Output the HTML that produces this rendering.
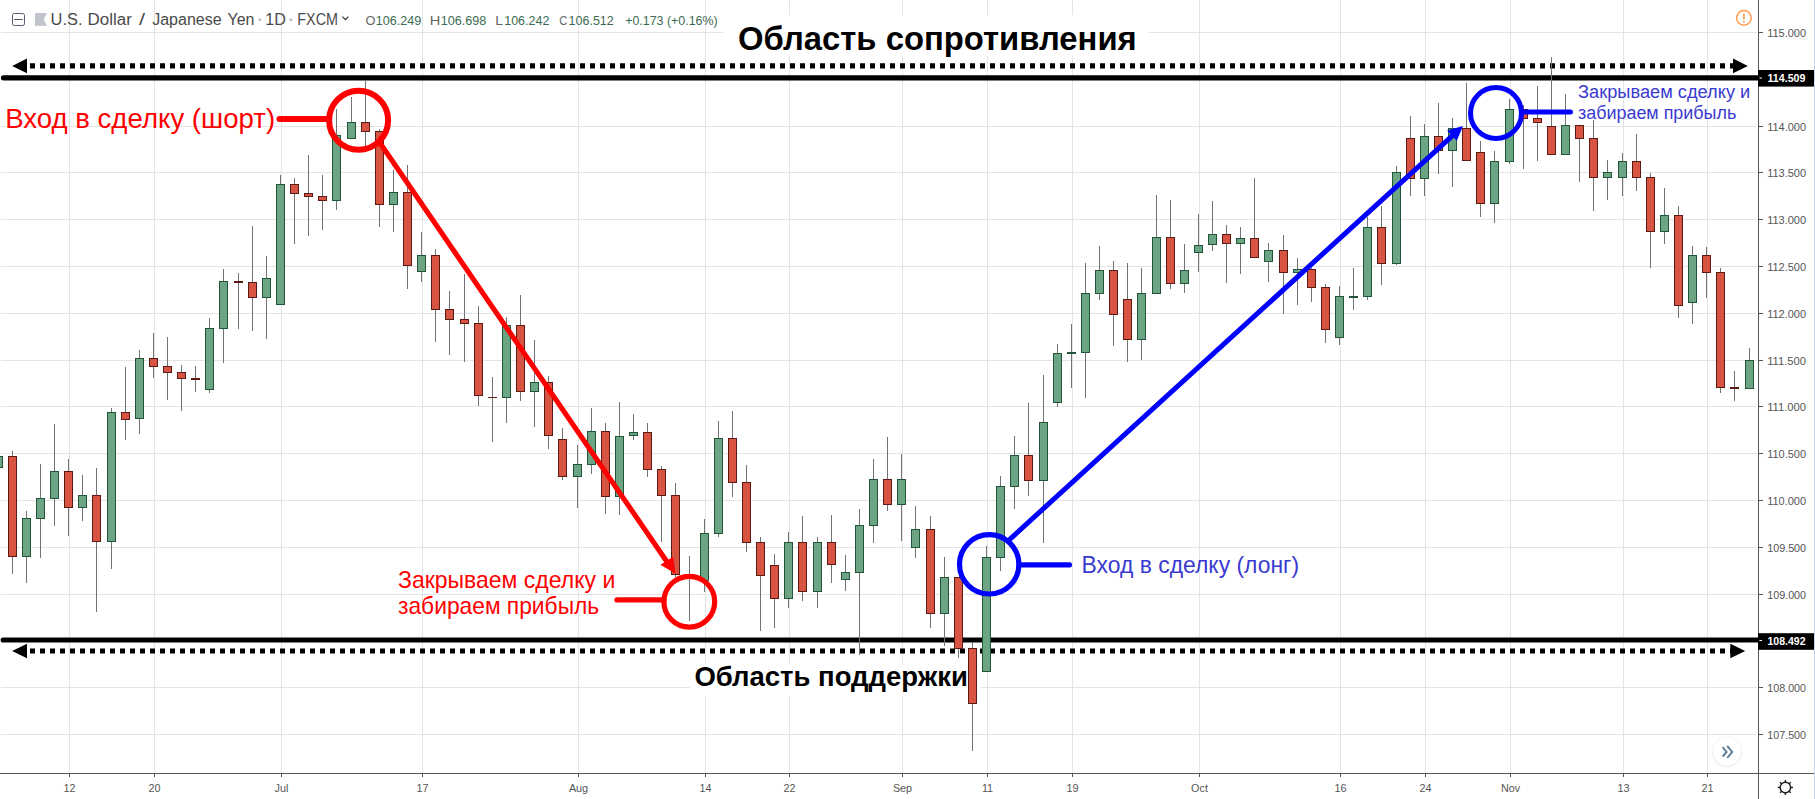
<!DOCTYPE html>
<html lang="ru"><head><meta charset="utf-8"><title>USDJPY 1D</title>
<style>html,body{margin:0;padding:0;background:#fff;}body{width:1815px;height:799px;overflow:hidden;position:relative;}</style>
</head><body>
<svg width="1815" height="799" viewBox="0 0 1815 799" style="position:absolute;left:0;top:0;display:block" font-family="'Liberation Sans', sans-serif">
<rect x="0" y="0" width="1815" height="799" fill="#ffffff"/>
<g fill="#e4e4e4" shape-rendering="crispEdges">
<rect x="1" y="32" width="1756" height="1"/>
<rect x="1" y="79" width="1756" height="1"/>
<rect x="1" y="126" width="1756" height="1"/>
<rect x="1" y="172" width="1756" height="1"/>
<rect x="1" y="219" width="1756" height="1"/>
<rect x="1" y="266" width="1756" height="1"/>
<rect x="1" y="313" width="1756" height="1"/>
<rect x="1" y="360" width="1756" height="1"/>
<rect x="1" y="406" width="1756" height="1"/>
<rect x="1" y="453" width="1756" height="1"/>
<rect x="1" y="500" width="1756" height="1"/>
<rect x="1" y="547" width="1756" height="1"/>
<rect x="1" y="594" width="1756" height="1"/>
<rect x="1" y="640" width="1756" height="1"/>
<rect x="1" y="687" width="1756" height="1"/>
<rect x="1" y="734" width="1756" height="1"/>
<rect x="69" y="0" width="1" height="773"/>
<rect x="154" y="0" width="1" height="773"/>
<rect x="281" y="0" width="1" height="773"/>
<rect x="422" y="0" width="1" height="773"/>
<rect x="578" y="0" width="1" height="773"/>
<rect x="705" y="0" width="1" height="773"/>
<rect x="789" y="0" width="1" height="773"/>
<rect x="902" y="0" width="1" height="773"/>
<rect x="987" y="0" width="1" height="773"/>
<rect x="1072" y="0" width="1" height="773"/>
<rect x="1199" y="0" width="1" height="773"/>
<rect x="1340" y="0" width="1" height="773"/>
<rect x="1425" y="0" width="1" height="773"/>
<rect x="1510" y="0" width="1" height="773"/>
<rect x="1623" y="0" width="1" height="773"/>
<rect x="1707" y="0" width="1" height="773"/>
</g>
<rect x="723" y="15" width="426" height="41" fill="#ffffff"/>
<rect x="690" y="665" width="291" height="31" fill="#ffffff"/>
<g stroke="#000" fill="#000">
<line x1="3.5" y1="77.8" x2="1758" y2="77.8" stroke-width="5.2" stroke-linecap="round"/>
<line x1="3.2" y1="640" x2="1758" y2="640" stroke-width="5.2" stroke-linecap="round"/>
<line x1="30" y1="65.8" x2="1736" y2="65.8" stroke-width="5.2" stroke-dasharray="5 5"/>
<line x1="30" y1="651" x2="1733" y2="651" stroke-width="5" stroke-dasharray="5 5"/>
<polygon stroke="none" points="12.2,65.9 27,58.5 27,73.3"/>
<polygon stroke="none" points="1747.8,65.9 1733,58.5 1733,73.3"/>
<polygon stroke="none" points="12.2,651 27,643.7 27,658.3"/>
<polygon stroke="none" points="1745.2,651 1730.3,643.7 1730.3,658.3"/>
</g>
<text x="738.02" y="49.6" font-size="33.6" font-weight="bold" fill="#000" textLength="398.73" lengthAdjust="spacingAndGlyphs">Область сопротивления</text>
<text x="694.42" y="685.8" font-size="28" font-weight="bold" fill="#000" textLength="273.37" lengthAdjust="spacingAndGlyphs">Область поддержки</text>
<g shape-rendering="crispEdges">
<rect x="-2" y="456" width="1" height="12" fill="#737375"/>
<rect x="-6" y="456" width="9" height="12" fill="#225437"/>
<rect x="-5" y="457" width="7" height="10" fill="#6ba583"/>
<rect x="12" y="451" width="1" height="123" fill="#737375"/>
<rect x="8" y="456" width="9" height="101" fill="#5b1a13"/>
<rect x="9" y="457" width="7" height="99" fill="#d75442"/>
<rect x="26" y="511" width="1" height="72" fill="#737375"/>
<rect x="22" y="518" width="9" height="39" fill="#225437"/>
<rect x="23" y="519" width="7" height="37" fill="#6ba583"/>
<rect x="40" y="464" width="1" height="94" fill="#737375"/>
<rect x="36" y="498" width="9" height="21" fill="#225437"/>
<rect x="37" y="499" width="7" height="19" fill="#6ba583"/>
<rect x="54" y="424" width="1" height="102" fill="#737375"/>
<rect x="50" y="471" width="9" height="28" fill="#225437"/>
<rect x="51" y="472" width="7" height="26" fill="#6ba583"/>
<rect x="68" y="459" width="1" height="77" fill="#737375"/>
<rect x="64" y="471" width="9" height="37" fill="#5b1a13"/>
<rect x="65" y="472" width="7" height="35" fill="#d75442"/>
<rect x="82" y="475" width="1" height="46" fill="#737375"/>
<rect x="78" y="495" width="9" height="13" fill="#225437"/>
<rect x="79" y="496" width="7" height="11" fill="#6ba583"/>
<rect x="96" y="468" width="1" height="144" fill="#737375"/>
<rect x="92" y="495" width="9" height="47" fill="#5b1a13"/>
<rect x="93" y="496" width="7" height="45" fill="#d75442"/>
<rect x="111" y="408" width="1" height="161" fill="#737375"/>
<rect x="107" y="412" width="9" height="130" fill="#225437"/>
<rect x="108" y="413" width="7" height="128" fill="#6ba583"/>
<rect x="125" y="367" width="1" height="73" fill="#737375"/>
<rect x="121" y="412" width="9" height="8" fill="#5b1a13"/>
<rect x="122" y="413" width="7" height="6" fill="#d75442"/>
<rect x="139" y="350" width="1" height="84" fill="#737375"/>
<rect x="135" y="358" width="9" height="61" fill="#225437"/>
<rect x="136" y="359" width="7" height="59" fill="#6ba583"/>
<rect x="153" y="333" width="1" height="45" fill="#737375"/>
<rect x="149" y="358" width="9" height="9" fill="#5b1a13"/>
<rect x="150" y="359" width="7" height="7" fill="#d75442"/>
<rect x="167" y="337" width="1" height="63" fill="#737375"/>
<rect x="163" y="366" width="9" height="7" fill="#5b1a13"/>
<rect x="164" y="367" width="7" height="5" fill="#d75442"/>
<rect x="181" y="365" width="1" height="46" fill="#737375"/>
<rect x="177" y="372" width="9" height="7" fill="#5b1a13"/>
<rect x="178" y="373" width="7" height="5" fill="#d75442"/>
<rect x="195" y="366" width="1" height="26" fill="#737375"/>
<rect x="191" y="378" width="9" height="2" fill="#5b1a13"/>
<rect x="209" y="318" width="1" height="75" fill="#737375"/>
<rect x="205" y="328" width="9" height="62" fill="#225437"/>
<rect x="206" y="329" width="7" height="60" fill="#6ba583"/>
<rect x="223" y="269" width="1" height="94" fill="#737375"/>
<rect x="219" y="281" width="9" height="48" fill="#225437"/>
<rect x="220" y="282" width="7" height="46" fill="#6ba583"/>
<rect x="238" y="273" width="1" height="56" fill="#737375"/>
<rect x="234" y="281" width="9" height="2" fill="#5b1a13"/>
<rect x="252" y="226" width="1" height="105" fill="#737375"/>
<rect x="248" y="282" width="9" height="16" fill="#5b1a13"/>
<rect x="249" y="283" width="7" height="14" fill="#d75442"/>
<rect x="266" y="256" width="1" height="83" fill="#737375"/>
<rect x="262" y="278" width="9" height="20" fill="#225437"/>
<rect x="263" y="279" width="7" height="18" fill="#6ba583"/>
<rect x="280" y="175" width="1" height="130" fill="#737375"/>
<rect x="276" y="184" width="9" height="121" fill="#225437"/>
<rect x="277" y="185" width="7" height="119" fill="#6ba583"/>
<rect x="294" y="178" width="1" height="66" fill="#737375"/>
<rect x="290" y="184" width="9" height="10" fill="#5b1a13"/>
<rect x="291" y="185" width="7" height="8" fill="#d75442"/>
<rect x="308" y="155" width="1" height="81" fill="#737375"/>
<rect x="304" y="193" width="9" height="4" fill="#5b1a13"/>
<rect x="305" y="194" width="7" height="2" fill="#d75442"/>
<rect x="322" y="175" width="1" height="55" fill="#737375"/>
<rect x="318" y="196" width="9" height="5" fill="#5b1a13"/>
<rect x="319" y="197" width="7" height="3" fill="#d75442"/>
<rect x="336" y="109" width="1" height="101" fill="#737375"/>
<rect x="332" y="135" width="9" height="66" fill="#225437"/>
<rect x="333" y="136" width="7" height="64" fill="#6ba583"/>
<rect x="351" y="97" width="1" height="42" fill="#737375"/>
<rect x="347" y="122" width="9" height="17" fill="#225437"/>
<rect x="348" y="123" width="7" height="15" fill="#6ba583"/>
<rect x="365" y="80" width="1" height="67" fill="#737375"/>
<rect x="361" y="122" width="9" height="10" fill="#5b1a13"/>
<rect x="362" y="123" width="7" height="8" fill="#d75442"/>
<rect x="379" y="129" width="1" height="98" fill="#737375"/>
<rect x="375" y="131" width="9" height="74" fill="#5b1a13"/>
<rect x="376" y="132" width="7" height="72" fill="#d75442"/>
<rect x="393" y="170" width="1" height="62" fill="#737375"/>
<rect x="389" y="192" width="9" height="13" fill="#225437"/>
<rect x="390" y="193" width="7" height="11" fill="#6ba583"/>
<rect x="407" y="165" width="1" height="124" fill="#737375"/>
<rect x="403" y="192" width="9" height="74" fill="#5b1a13"/>
<rect x="404" y="193" width="7" height="72" fill="#d75442"/>
<rect x="421" y="232" width="1" height="50" fill="#737375"/>
<rect x="417" y="255" width="9" height="17" fill="#225437"/>
<rect x="418" y="256" width="7" height="15" fill="#6ba583"/>
<rect x="435" y="249" width="1" height="93" fill="#737375"/>
<rect x="431" y="255" width="9" height="55" fill="#5b1a13"/>
<rect x="432" y="256" width="7" height="53" fill="#d75442"/>
<rect x="449" y="291" width="1" height="64" fill="#737375"/>
<rect x="445" y="309" width="9" height="11" fill="#5b1a13"/>
<rect x="446" y="310" width="7" height="9" fill="#d75442"/>
<rect x="464" y="274" width="1" height="88" fill="#737375"/>
<rect x="460" y="319" width="9" height="5" fill="#5b1a13"/>
<rect x="461" y="320" width="7" height="3" fill="#d75442"/>
<rect x="478" y="306" width="1" height="100" fill="#737375"/>
<rect x="474" y="323" width="9" height="73" fill="#5b1a13"/>
<rect x="475" y="324" width="7" height="71" fill="#d75442"/>
<rect x="492" y="377" width="1" height="65" fill="#737375"/>
<rect x="488" y="397" width="9" height="1" fill="#5b1a13"/>
<rect x="506" y="317" width="1" height="106" fill="#737375"/>
<rect x="502" y="325" width="9" height="73" fill="#225437"/>
<rect x="503" y="326" width="7" height="71" fill="#6ba583"/>
<rect x="520" y="295" width="1" height="106" fill="#737375"/>
<rect x="516" y="325" width="9" height="67" fill="#5b1a13"/>
<rect x="517" y="326" width="7" height="65" fill="#d75442"/>
<rect x="534" y="340" width="1" height="87" fill="#737375"/>
<rect x="530" y="382" width="9" height="10" fill="#225437"/>
<rect x="531" y="383" width="7" height="8" fill="#6ba583"/>
<rect x="548" y="376" width="1" height="73" fill="#737375"/>
<rect x="544" y="382" width="9" height="54" fill="#5b1a13"/>
<rect x="545" y="383" width="7" height="52" fill="#d75442"/>
<rect x="562" y="428" width="1" height="52" fill="#737375"/>
<rect x="558" y="439" width="9" height="38" fill="#5b1a13"/>
<rect x="559" y="440" width="7" height="36" fill="#d75442"/>
<rect x="577" y="445" width="1" height="63" fill="#737375"/>
<rect x="573" y="464" width="9" height="13" fill="#225437"/>
<rect x="574" y="465" width="7" height="11" fill="#6ba583"/>
<rect x="591" y="408" width="1" height="66" fill="#737375"/>
<rect x="587" y="431" width="9" height="34" fill="#225437"/>
<rect x="588" y="432" width="7" height="32" fill="#6ba583"/>
<rect x="605" y="423" width="1" height="91" fill="#737375"/>
<rect x="601" y="431" width="9" height="66" fill="#5b1a13"/>
<rect x="602" y="432" width="7" height="64" fill="#d75442"/>
<rect x="619" y="402" width="1" height="113" fill="#737375"/>
<rect x="615" y="436" width="9" height="61" fill="#225437"/>
<rect x="616" y="437" width="7" height="59" fill="#6ba583"/>
<rect x="633" y="414" width="1" height="26" fill="#737375"/>
<rect x="629" y="432" width="9" height="4" fill="#225437"/>
<rect x="630" y="433" width="7" height="2" fill="#6ba583"/>
<rect x="647" y="423" width="1" height="54" fill="#737375"/>
<rect x="643" y="432" width="9" height="38" fill="#5b1a13"/>
<rect x="644" y="433" width="7" height="36" fill="#d75442"/>
<rect x="661" y="466" width="1" height="76" fill="#737375"/>
<rect x="657" y="469" width="9" height="27" fill="#5b1a13"/>
<rect x="658" y="470" width="7" height="25" fill="#d75442"/>
<rect x="675" y="483" width="1" height="94" fill="#737375"/>
<rect x="671" y="495" width="9" height="80" fill="#5b1a13"/>
<rect x="672" y="496" width="7" height="78" fill="#d75442"/>
<rect x="689" y="556" width="1" height="65" fill="#737375"/>
<rect x="685" y="574" width="9" height="2" fill="#5b1a13"/>
<rect x="704" y="519" width="1" height="73" fill="#737375"/>
<rect x="700" y="533" width="9" height="48" fill="#225437"/>
<rect x="701" y="534" width="7" height="46" fill="#6ba583"/>
<rect x="718" y="421" width="1" height="116" fill="#737375"/>
<rect x="714" y="438" width="9" height="96" fill="#225437"/>
<rect x="715" y="439" width="7" height="94" fill="#6ba583"/>
<rect x="732" y="411" width="1" height="86" fill="#737375"/>
<rect x="728" y="438" width="9" height="45" fill="#5b1a13"/>
<rect x="729" y="439" width="7" height="43" fill="#d75442"/>
<rect x="746" y="465" width="1" height="87" fill="#737375"/>
<rect x="742" y="482" width="9" height="61" fill="#5b1a13"/>
<rect x="743" y="483" width="7" height="59" fill="#d75442"/>
<rect x="760" y="537" width="1" height="94" fill="#737375"/>
<rect x="756" y="542" width="9" height="34" fill="#5b1a13"/>
<rect x="757" y="543" width="7" height="32" fill="#d75442"/>
<rect x="774" y="554" width="1" height="74" fill="#737375"/>
<rect x="770" y="565" width="9" height="34" fill="#5b1a13"/>
<rect x="771" y="566" width="7" height="32" fill="#d75442"/>
<rect x="788" y="532" width="1" height="76" fill="#737375"/>
<rect x="784" y="542" width="9" height="57" fill="#225437"/>
<rect x="785" y="543" width="7" height="55" fill="#6ba583"/>
<rect x="802" y="516" width="1" height="85" fill="#737375"/>
<rect x="798" y="542" width="9" height="50" fill="#5b1a13"/>
<rect x="799" y="543" width="7" height="48" fill="#d75442"/>
<rect x="817" y="537" width="1" height="71" fill="#737375"/>
<rect x="813" y="542" width="9" height="50" fill="#225437"/>
<rect x="814" y="543" width="7" height="48" fill="#6ba583"/>
<rect x="831" y="515" width="1" height="68" fill="#737375"/>
<rect x="827" y="542" width="9" height="23" fill="#5b1a13"/>
<rect x="828" y="543" width="7" height="21" fill="#d75442"/>
<rect x="845" y="555" width="1" height="36" fill="#737375"/>
<rect x="841" y="572" width="9" height="8" fill="#225437"/>
<rect x="842" y="573" width="7" height="6" fill="#6ba583"/>
<rect x="859" y="509" width="1" height="146" fill="#737375"/>
<rect x="855" y="525" width="9" height="48" fill="#225437"/>
<rect x="856" y="526" width="7" height="46" fill="#6ba583"/>
<rect x="873" y="459" width="1" height="84" fill="#737375"/>
<rect x="869" y="479" width="9" height="47" fill="#225437"/>
<rect x="870" y="480" width="7" height="45" fill="#6ba583"/>
<rect x="887" y="437" width="1" height="74" fill="#737375"/>
<rect x="883" y="479" width="9" height="26" fill="#5b1a13"/>
<rect x="884" y="480" width="7" height="24" fill="#d75442"/>
<rect x="901" y="454" width="1" height="87" fill="#737375"/>
<rect x="897" y="479" width="9" height="26" fill="#225437"/>
<rect x="898" y="480" width="7" height="24" fill="#6ba583"/>
<rect x="915" y="506" width="1" height="52" fill="#737375"/>
<rect x="911" y="529" width="9" height="19" fill="#225437"/>
<rect x="912" y="530" width="7" height="17" fill="#6ba583"/>
<rect x="930" y="516" width="1" height="112" fill="#737375"/>
<rect x="926" y="529" width="9" height="85" fill="#5b1a13"/>
<rect x="927" y="530" width="7" height="83" fill="#d75442"/>
<rect x="944" y="557" width="1" height="89" fill="#737375"/>
<rect x="940" y="577" width="9" height="37" fill="#225437"/>
<rect x="941" y="578" width="7" height="35" fill="#6ba583"/>
<rect x="958" y="577" width="1" height="81" fill="#737375"/>
<rect x="954" y="577" width="9" height="72" fill="#5b1a13"/>
<rect x="955" y="578" width="7" height="70" fill="#d75442"/>
<rect x="972" y="642" width="1" height="109" fill="#737375"/>
<rect x="968" y="648" width="9" height="56" fill="#5b1a13"/>
<rect x="969" y="649" width="7" height="54" fill="#d75442"/>
<rect x="986" y="546" width="1" height="126" fill="#737375"/>
<rect x="982" y="557" width="9" height="115" fill="#225437"/>
<rect x="983" y="558" width="7" height="113" fill="#6ba583"/>
<rect x="1000" y="476" width="1" height="95" fill="#737375"/>
<rect x="996" y="486" width="9" height="72" fill="#225437"/>
<rect x="997" y="487" width="7" height="70" fill="#6ba583"/>
<rect x="1014" y="436" width="1" height="73" fill="#737375"/>
<rect x="1010" y="455" width="9" height="32" fill="#225437"/>
<rect x="1011" y="456" width="7" height="30" fill="#6ba583"/>
<rect x="1028" y="403" width="1" height="93" fill="#737375"/>
<rect x="1024" y="455" width="9" height="26" fill="#5b1a13"/>
<rect x="1025" y="456" width="7" height="24" fill="#d75442"/>
<rect x="1043" y="375" width="1" height="168" fill="#737375"/>
<rect x="1039" y="422" width="9" height="59" fill="#225437"/>
<rect x="1040" y="423" width="7" height="57" fill="#6ba583"/>
<rect x="1057" y="344" width="1" height="63" fill="#737375"/>
<rect x="1053" y="353" width="9" height="50" fill="#225437"/>
<rect x="1054" y="354" width="7" height="48" fill="#6ba583"/>
<rect x="1071" y="324" width="1" height="64" fill="#737375"/>
<rect x="1067" y="352" width="9" height="2" fill="#225437"/>
<rect x="1085" y="263" width="1" height="135" fill="#737375"/>
<rect x="1081" y="293" width="9" height="60" fill="#225437"/>
<rect x="1082" y="294" width="7" height="58" fill="#6ba583"/>
<rect x="1099" y="246" width="1" height="54" fill="#737375"/>
<rect x="1095" y="270" width="9" height="24" fill="#225437"/>
<rect x="1096" y="271" width="7" height="22" fill="#6ba583"/>
<rect x="1113" y="261" width="1" height="85" fill="#737375"/>
<rect x="1109" y="270" width="9" height="45" fill="#5b1a13"/>
<rect x="1110" y="271" width="7" height="43" fill="#d75442"/>
<rect x="1127" y="263" width="1" height="99" fill="#737375"/>
<rect x="1123" y="299" width="9" height="41" fill="#5b1a13"/>
<rect x="1124" y="300" width="7" height="39" fill="#d75442"/>
<rect x="1141" y="268" width="1" height="92" fill="#737375"/>
<rect x="1137" y="293" width="9" height="47" fill="#225437"/>
<rect x="1138" y="294" width="7" height="45" fill="#6ba583"/>
<rect x="1156" y="195" width="1" height="99" fill="#737375"/>
<rect x="1152" y="237" width="9" height="57" fill="#225437"/>
<rect x="1153" y="238" width="7" height="55" fill="#6ba583"/>
<rect x="1170" y="200" width="1" height="89" fill="#737375"/>
<rect x="1166" y="237" width="9" height="47" fill="#5b1a13"/>
<rect x="1167" y="238" width="7" height="45" fill="#d75442"/>
<rect x="1184" y="244" width="1" height="49" fill="#737375"/>
<rect x="1180" y="270" width="9" height="14" fill="#225437"/>
<rect x="1181" y="271" width="7" height="12" fill="#6ba583"/>
<rect x="1198" y="214" width="1" height="58" fill="#737375"/>
<rect x="1194" y="245" width="9" height="8" fill="#225437"/>
<rect x="1195" y="246" width="7" height="6" fill="#6ba583"/>
<rect x="1212" y="201" width="1" height="50" fill="#737375"/>
<rect x="1208" y="234" width="9" height="11" fill="#225437"/>
<rect x="1209" y="235" width="7" height="9" fill="#6ba583"/>
<rect x="1226" y="225" width="1" height="58" fill="#737375"/>
<rect x="1222" y="234" width="9" height="10" fill="#5b1a13"/>
<rect x="1223" y="235" width="7" height="8" fill="#d75442"/>
<rect x="1240" y="227" width="1" height="47" fill="#737375"/>
<rect x="1236" y="238" width="9" height="6" fill="#225437"/>
<rect x="1237" y="239" width="7" height="4" fill="#6ba583"/>
<rect x="1254" y="178" width="1" height="80" fill="#737375"/>
<rect x="1250" y="238" width="9" height="20" fill="#5b1a13"/>
<rect x="1251" y="239" width="7" height="18" fill="#d75442"/>
<rect x="1268" y="243" width="1" height="39" fill="#737375"/>
<rect x="1264" y="250" width="9" height="12" fill="#225437"/>
<rect x="1265" y="251" width="7" height="10" fill="#6ba583"/>
<rect x="1283" y="235" width="1" height="79" fill="#737375"/>
<rect x="1279" y="250" width="9" height="23" fill="#5b1a13"/>
<rect x="1280" y="251" width="7" height="21" fill="#d75442"/>
<rect x="1297" y="258" width="1" height="47" fill="#737375"/>
<rect x="1293" y="269" width="9" height="4" fill="#225437"/>
<rect x="1294" y="270" width="7" height="2" fill="#6ba583"/>
<rect x="1311" y="268" width="1" height="34" fill="#737375"/>
<rect x="1307" y="269" width="9" height="19" fill="#5b1a13"/>
<rect x="1308" y="270" width="7" height="17" fill="#d75442"/>
<rect x="1325" y="284" width="1" height="59" fill="#737375"/>
<rect x="1321" y="287" width="9" height="43" fill="#5b1a13"/>
<rect x="1322" y="288" width="7" height="41" fill="#d75442"/>
<rect x="1339" y="286" width="1" height="59" fill="#737375"/>
<rect x="1335" y="296" width="9" height="42" fill="#225437"/>
<rect x="1336" y="297" width="7" height="40" fill="#6ba583"/>
<rect x="1353" y="268" width="1" height="42" fill="#737375"/>
<rect x="1349" y="296" width="9" height="2" fill="#225437"/>
<rect x="1367" y="217" width="1" height="83" fill="#737375"/>
<rect x="1363" y="227" width="9" height="70" fill="#225437"/>
<rect x="1364" y="228" width="7" height="68" fill="#6ba583"/>
<rect x="1381" y="206" width="1" height="79" fill="#737375"/>
<rect x="1377" y="227" width="9" height="37" fill="#5b1a13"/>
<rect x="1378" y="228" width="7" height="35" fill="#d75442"/>
<rect x="1396" y="166" width="1" height="99" fill="#737375"/>
<rect x="1392" y="172" width="9" height="92" fill="#225437"/>
<rect x="1393" y="173" width="7" height="90" fill="#6ba583"/>
<rect x="1410" y="116" width="1" height="80" fill="#737375"/>
<rect x="1406" y="138" width="9" height="41" fill="#5b1a13"/>
<rect x="1407" y="139" width="7" height="39" fill="#d75442"/>
<rect x="1424" y="124" width="1" height="72" fill="#737375"/>
<rect x="1420" y="136" width="9" height="43" fill="#225437"/>
<rect x="1421" y="137" width="7" height="41" fill="#6ba583"/>
<rect x="1438" y="103" width="1" height="71" fill="#737375"/>
<rect x="1434" y="136" width="9" height="15" fill="#5b1a13"/>
<rect x="1435" y="137" width="7" height="13" fill="#d75442"/>
<rect x="1452" y="118" width="1" height="69" fill="#737375"/>
<rect x="1448" y="128" width="9" height="23" fill="#225437"/>
<rect x="1449" y="129" width="7" height="21" fill="#6ba583"/>
<rect x="1466" y="83" width="1" height="78" fill="#737375"/>
<rect x="1462" y="128" width="9" height="33" fill="#5b1a13"/>
<rect x="1463" y="129" width="7" height="31" fill="#d75442"/>
<rect x="1480" y="141" width="1" height="76" fill="#737375"/>
<rect x="1476" y="152" width="9" height="52" fill="#5b1a13"/>
<rect x="1477" y="153" width="7" height="50" fill="#d75442"/>
<rect x="1494" y="151" width="1" height="72" fill="#737375"/>
<rect x="1490" y="161" width="9" height="43" fill="#225437"/>
<rect x="1491" y="162" width="7" height="41" fill="#6ba583"/>
<rect x="1509" y="99" width="1" height="65" fill="#737375"/>
<rect x="1505" y="109" width="9" height="53" fill="#225437"/>
<rect x="1506" y="110" width="7" height="51" fill="#6ba583"/>
<rect x="1523" y="105" width="1" height="64" fill="#737375"/>
<rect x="1519" y="109" width="9" height="10" fill="#5b1a13"/>
<rect x="1520" y="110" width="7" height="8" fill="#d75442"/>
<rect x="1537" y="86" width="1" height="75" fill="#737375"/>
<rect x="1533" y="118" width="9" height="5" fill="#5b1a13"/>
<rect x="1534" y="119" width="7" height="3" fill="#d75442"/>
<rect x="1551" y="57" width="1" height="98" fill="#737375"/>
<rect x="1547" y="126" width="9" height="29" fill="#5b1a13"/>
<rect x="1548" y="127" width="7" height="27" fill="#d75442"/>
<rect x="1565" y="94" width="1" height="61" fill="#737375"/>
<rect x="1561" y="125" width="9" height="30" fill="#225437"/>
<rect x="1562" y="126" width="7" height="28" fill="#6ba583"/>
<rect x="1579" y="125" width="1" height="57" fill="#737375"/>
<rect x="1575" y="125" width="9" height="14" fill="#5b1a13"/>
<rect x="1576" y="126" width="7" height="12" fill="#d75442"/>
<rect x="1593" y="120" width="1" height="91" fill="#737375"/>
<rect x="1589" y="138" width="9" height="40" fill="#5b1a13"/>
<rect x="1590" y="139" width="7" height="38" fill="#d75442"/>
<rect x="1607" y="160" width="1" height="40" fill="#737375"/>
<rect x="1603" y="172" width="9" height="6" fill="#225437"/>
<rect x="1604" y="173" width="7" height="4" fill="#6ba583"/>
<rect x="1622" y="153" width="1" height="43" fill="#737375"/>
<rect x="1618" y="161" width="9" height="17" fill="#225437"/>
<rect x="1619" y="162" width="7" height="15" fill="#6ba583"/>
<rect x="1636" y="134" width="1" height="57" fill="#737375"/>
<rect x="1632" y="161" width="9" height="17" fill="#5b1a13"/>
<rect x="1633" y="162" width="7" height="15" fill="#d75442"/>
<rect x="1650" y="173" width="1" height="95" fill="#737375"/>
<rect x="1646" y="177" width="9" height="55" fill="#5b1a13"/>
<rect x="1647" y="178" width="7" height="53" fill="#d75442"/>
<rect x="1664" y="188" width="1" height="56" fill="#737375"/>
<rect x="1660" y="215" width="9" height="17" fill="#225437"/>
<rect x="1661" y="216" width="7" height="15" fill="#6ba583"/>
<rect x="1678" y="206" width="1" height="112" fill="#737375"/>
<rect x="1674" y="215" width="9" height="91" fill="#5b1a13"/>
<rect x="1675" y="216" width="7" height="89" fill="#d75442"/>
<rect x="1692" y="246" width="1" height="78" fill="#737375"/>
<rect x="1688" y="255" width="9" height="48" fill="#225437"/>
<rect x="1689" y="256" width="7" height="46" fill="#6ba583"/>
<rect x="1706" y="247" width="1" height="51" fill="#737375"/>
<rect x="1702" y="255" width="9" height="18" fill="#5b1a13"/>
<rect x="1703" y="256" width="7" height="16" fill="#d75442"/>
<rect x="1720" y="268" width="1" height="125" fill="#737375"/>
<rect x="1716" y="272" width="9" height="116" fill="#5b1a13"/>
<rect x="1717" y="273" width="7" height="114" fill="#d75442"/>
<rect x="1734" y="371" width="1" height="30" fill="#737375"/>
<rect x="1730" y="387" width="9" height="2" fill="#5b1a13"/>
<rect x="1749" y="348" width="1" height="41" fill="#737375"/>
<rect x="1745" y="360" width="9" height="29" fill="#225437"/>
<rect x="1746" y="361" width="7" height="27" fill="#6ba583"/>
</g>
<rect x="1758" y="0" width="57" height="799" fill="#ffffff"/>
<rect x="0" y="774" width="1815" height="25" fill="#ffffff"/>
<g fill="#555555" shape-rendering="crispEdges">
<rect x="1758" y="0" width="1" height="799"/>
<rect x="0" y="773" width="1815" height="1"/>
<rect x="1759" y="32" width="4" height="1"/>
<rect x="1759" y="79" width="4" height="1"/>
<rect x="1759" y="126" width="4" height="1"/>
<rect x="1759" y="172" width="4" height="1"/>
<rect x="1759" y="219" width="4" height="1"/>
<rect x="1759" y="266" width="4" height="1"/>
<rect x="1759" y="313" width="4" height="1"/>
<rect x="1759" y="360" width="4" height="1"/>
<rect x="1759" y="406" width="4" height="1"/>
<rect x="1759" y="453" width="4" height="1"/>
<rect x="1759" y="500" width="4" height="1"/>
<rect x="1759" y="547" width="4" height="1"/>
<rect x="1759" y="594" width="4" height="1"/>
<rect x="1759" y="640" width="4" height="1"/>
<rect x="1759" y="687" width="4" height="1"/>
<rect x="1759" y="734" width="4" height="1"/>
<rect x="69" y="774" width="1" height="3"/>
<rect x="154" y="774" width="1" height="3"/>
<rect x="281" y="774" width="1" height="3"/>
<rect x="422" y="774" width="1" height="3"/>
<rect x="578" y="774" width="1" height="3"/>
<rect x="705" y="774" width="1" height="3"/>
<rect x="789" y="774" width="1" height="3"/>
<rect x="902" y="774" width="1" height="3"/>
<rect x="987" y="774" width="1" height="3"/>
<rect x="1072" y="774" width="1" height="3"/>
<rect x="1199" y="774" width="1" height="3"/>
<rect x="1340" y="774" width="1" height="3"/>
<rect x="1425" y="774" width="1" height="3"/>
<rect x="1510" y="774" width="1" height="3"/>
<rect x="1623" y="774" width="1" height="3"/>
<rect x="1707" y="774" width="1" height="3"/>
</g>
<g fill="#555555" font-size="10.8">
<text x="1767.20" y="37.2" font-size="10.8" fill="#555555" textLength="38.90" lengthAdjust="spacingAndGlyphs">115.000</text>
<text x="1767.20" y="131.2" font-size="10.8" fill="#555555" textLength="38.90" lengthAdjust="spacingAndGlyphs">114.000</text>
<text x="1767.20" y="177.2" font-size="10.8" fill="#555555" textLength="38.90" lengthAdjust="spacingAndGlyphs">113.500</text>
<text x="1767.20" y="224.2" font-size="10.8" fill="#555555" textLength="38.90" lengthAdjust="spacingAndGlyphs">113.000</text>
<text x="1767.20" y="271.2" font-size="10.8" fill="#555555" textLength="38.90" lengthAdjust="spacingAndGlyphs">112.500</text>
<text x="1767.20" y="318.2" font-size="10.8" fill="#555555" textLength="38.90" lengthAdjust="spacingAndGlyphs">112.000</text>
<text x="1767.20" y="365.2" font-size="10.8" fill="#555555" textLength="38.90" lengthAdjust="spacingAndGlyphs">111.500</text>
<text x="1767.20" y="411.2" font-size="10.8" fill="#555555" textLength="38.90" lengthAdjust="spacingAndGlyphs">111.000</text>
<text x="1767.20" y="458.2" font-size="10.8" fill="#555555" textLength="38.90" lengthAdjust="spacingAndGlyphs">110.500</text>
<text x="1767.20" y="505.2" font-size="10.8" fill="#555555" textLength="38.90" lengthAdjust="spacingAndGlyphs">110.000</text>
<text x="1767.20" y="552.2" font-size="10.8" fill="#555555" textLength="38.90" lengthAdjust="spacingAndGlyphs">109.500</text>
<text x="1767.20" y="599.2" font-size="10.8" fill="#555555" textLength="38.90" lengthAdjust="spacingAndGlyphs">109.000</text>
<text x="1767.20" y="692.2" font-size="10.8" fill="#555555" textLength="38.90" lengthAdjust="spacingAndGlyphs">108.000</text>
<text x="1767.20" y="739.2" font-size="10.8" fill="#555555" textLength="38.90" lengthAdjust="spacingAndGlyphs">107.500</text>
<text x="69.5" y="792" text-anchor="middle">12</text>
<text x="154.5" y="792" text-anchor="middle">20</text>
<text x="281.5" y="792" text-anchor="middle">Jul</text>
<text x="422.5" y="792" text-anchor="middle">17</text>
<text x="578.5" y="792" text-anchor="middle">Aug</text>
<text x="705.5" y="792" text-anchor="middle">14</text>
<text x="789.5" y="792" text-anchor="middle">22</text>
<text x="902.5" y="792" text-anchor="middle">Sep</text>
<text x="987.5" y="792" text-anchor="middle">11</text>
<text x="1072.5" y="792" text-anchor="middle">19</text>
<text x="1199.5" y="792" text-anchor="middle">Oct</text>
<text x="1340.5" y="792" text-anchor="middle">16</text>
<text x="1425.5" y="792" text-anchor="middle">24</text>
<text x="1510.5" y="792" text-anchor="middle">Nov</text>
<text x="1623.5" y="792" text-anchor="middle">13</text>
<text x="1707.5" y="792" text-anchor="middle">21</text>
</g>
<rect x="1758" y="70" width="57" height="16.6" fill="#000"/>
<rect x="1759.5" y="77.5" width="2.5" height="1" fill="#fff"/>
<text x="1767.5" y="82" font-size="10.8" font-weight="bold" fill="#fff" textLength="38" lengthAdjust="spacingAndGlyphs">114.509</text>
<rect x="1758" y="633.2" width="57" height="16.6" fill="#000"/>
<rect x="1759.5" y="640" width="2.5" height="1" fill="#fff"/>
<text x="1767.5" y="644.6" font-size="10.8" font-weight="bold" fill="#fff" textLength="38" lengthAdjust="spacingAndGlyphs">108.492</text>
<rect x="1814" y="0" width="1" height="799" fill="#c9d6ea"/>
<g fill="none" stroke="#ff0000" stroke-linecap="round">
<circle cx="358.6" cy="120.3" r="29.5" stroke-width="6"/>
<line x1="279.5" y1="119.1" x2="329" y2="119.1" stroke-width="6"/>
<line x1="379.3" y1="142" x2="666.4" y2="561" stroke-width="5.1"/>
<circle cx="689.3" cy="601.7" r="25.4" stroke-width="5.2"/>
<line x1="617" y1="599.9" x2="664" y2="599.9" stroke-width="5.2"/>
</g>
<polygon fill="#ff0000" points="675.6,573.8 673.2,556.8 660.4,564.8"/>
<g fill="none" stroke="#0000ff" stroke-linecap="round">
<circle cx="989.2" cy="564.3" r="29.7" stroke-width="5.2"/>
<line x1="1019" y1="564.8" x2="1069.5" y2="564.8" stroke-width="5.2"/>
<line x1="1009.8" y1="539.3" x2="1452.8" y2="135.3" stroke-width="5"/>
<circle cx="1496" cy="113" r="25.5" stroke-width="5"/>
<line x1="1522" y1="111.9" x2="1570.5" y2="111.9" stroke-width="5"/>
</g>
<polygon fill="#0000ff" points="1463,126 1447.2,130.6 1456.8,140.7"/>
<g fill="#ff0000">
<text x="5.13" y="128.2" font-size="28" fill="#ff0000" textLength="269.98" lengthAdjust="spacingAndGlyphs">Вход в сделку (шорт)</text>
<text x="398.00" y="587.8" font-size="23.6" fill="#ff0000" textLength="217.25" lengthAdjust="spacingAndGlyphs">Закрываем сделку и</text>
<text x="398.00" y="613.6" font-size="23.6" fill="#ff0000" textLength="201.18" lengthAdjust="spacingAndGlyphs">забираем прибыль</text>
</g>
<g fill="#3a3ad0">
<text x="1081.61" y="573.1" font-size="23.2" fill="#3a3ad0" textLength="217.40" lengthAdjust="spacingAndGlyphs">Вход в сделку (лонг)</text>
<text x="1578.00" y="98" font-size="18.8" fill="#3a3ad0" textLength="172.28" lengthAdjust="spacingAndGlyphs">Закрываем сделку и</text>
<text x="1578.00" y="118.6" font-size="18.8" fill="#3a3ad0" textLength="158.29" lengthAdjust="spacingAndGlyphs">забираем прибыль</text>
</g>
<rect x="12.5" y="13.5" width="12" height="12" rx="1.8" fill="#fff" stroke="#585d70" stroke-width="1"/>
<rect x="14.2" y="19" width="8.6" height="1" fill="#4f5966"/>
<polygon points="35,13 47,13 43.6,19.4 47,25.8 35,25.8" fill="#c1c4cd"/>
<text x="50.57" y="24.8" font-size="16" fill="#4a4a4a" textLength="31.91" lengthAdjust="spacingAndGlyphs">U.S.</text>
<text x="87.54" y="24.8" font-size="16" fill="#4a4a4a" textLength="44.25" lengthAdjust="spacingAndGlyphs">Dollar</text>
<text x="139.00" y="24.8" font-size="16" fill="#4a4a4a" textLength="6.05" lengthAdjust="spacingAndGlyphs">/</text>
<text x="152.20" y="24.8" font-size="16" fill="#4a4a4a" textLength="69.50" lengthAdjust="spacingAndGlyphs">Japanese</text>
<text x="227.60" y="24.8" font-size="16" fill="#4a4a4a" textLength="26.89" lengthAdjust="spacingAndGlyphs">Yen</text>
<text x="265.29" y="24.8" font-size="16" fill="#4a4a4a" textLength="20.56" lengthAdjust="spacingAndGlyphs">1D</text>
<text x="297.30" y="24.8" font-size="16" fill="#4a4a4a" textLength="40.69" lengthAdjust="spacingAndGlyphs">FXCM</text>
<text x="257.4" y="24.8" font-size="16" font-weight="bold" fill="#b4b8c8">·</text><text x="288.6" y="24.8" font-size="16" font-weight="bold" fill="#b4b8c8">·</text>
<polyline points="342.4,16.6 345.4,19.6 348.4,16.6" fill="none" stroke="#333" stroke-width="1.25"/>
<text x="365.40" y="25.1" font-size="12.2" fill="#666666" textLength="9.90" lengthAdjust="spacingAndGlyphs">O</text>
<text x="375.80" y="25.1" font-size="12.4" fill="#3a6b52" textLength="45.59" lengthAdjust="spacingAndGlyphs">106.249</text>
<text x="429.70" y="25.1" font-size="12.2" fill="#666666" textLength="10.56" lengthAdjust="spacingAndGlyphs">H</text>
<text x="440.80" y="25.1" font-size="12.4" fill="#3a6b52" textLength="45.59" lengthAdjust="spacingAndGlyphs">106.698</text>
<text x="495.15" y="25.1" font-size="12.2" fill="#666666" textLength="7.79" lengthAdjust="spacingAndGlyphs">L</text>
<text x="504.20" y="25.1" font-size="12.4" fill="#3a6b52" textLength="45.19" lengthAdjust="spacingAndGlyphs">106.242</text>
<text x="559.30" y="25.1" font-size="12.2" fill="#666666" textLength="8.12" lengthAdjust="spacingAndGlyphs">C</text>
<text x="568.60" y="25.1" font-size="12.4" fill="#3a6b52" textLength="45.19" lengthAdjust="spacingAndGlyphs">106.512</text>
<text x="625.20" y="25.1" font-size="12.4" fill="#3a6b52" textLength="92.43" lengthAdjust="spacingAndGlyphs">+0.173 (+0.16%)</text>
<circle cx="1743.9" cy="17.9" r="7.3" fill="#fff" stroke="#ff9a52" stroke-width="1.5"/>
<rect x="1743.1" y="13.6" width="1.6" height="6" fill="#ff9a52"/><rect x="1743.1" y="21" width="1.6" height="1.6" fill="#ff9a52"/>
<defs><filter id="sh" x="-30%" y="-30%" width="160%" height="160%"><feGaussianBlur stdDeviation="1.3"/></filter></defs>
<circle cx="1727" cy="752.3" r="14.2" fill="#b9c2cc" opacity="0.55" filter="url(#sh)"/>
<circle cx="1727" cy="751.7" r="14" fill="#fff"/>
<g fill="none" stroke="#5c7b99" stroke-width="1.9"><polyline points="1722.6,747.2 1726.6,751.9 1722.6,756.6"/><polyline points="1727.2,745.8 1732.2,751.9 1727.2,758"/></g>
<g stroke="#1d1d1d" stroke-width="1.4" fill="none"><circle cx="1785.4" cy="787.5" r="5.2"/><line x1="1790.80" y1="787.50" x2="1793.00" y2="787.50"/><line x1="1789.22" y1="791.32" x2="1790.77" y2="792.87"/><line x1="1785.40" y1="792.90" x2="1785.40" y2="795.10"/><line x1="1781.58" y1="791.32" x2="1780.03" y2="792.87"/><line x1="1780.00" y1="787.50" x2="1777.80" y2="787.50"/><line x1="1781.58" y1="783.68" x2="1780.03" y2="782.13"/><line x1="1785.40" y1="782.10" x2="1785.40" y2="779.90"/><line x1="1789.22" y1="783.68" x2="1790.77" y2="782.13"/></g>
</svg>
</body></html>
